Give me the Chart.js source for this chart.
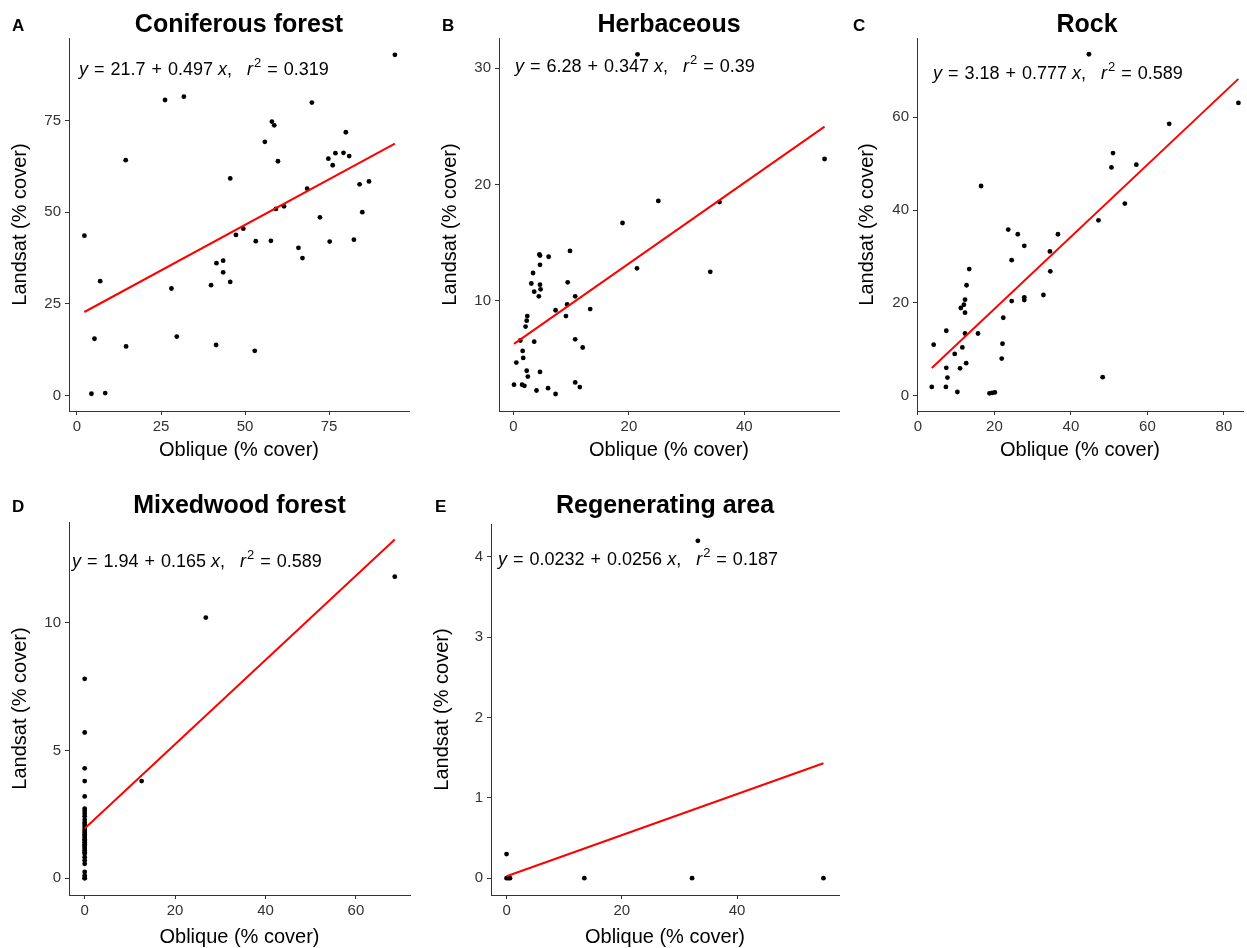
<!DOCTYPE html>
<html>
<head>
<meta charset="utf-8">
<script src="https://cdn.jsdelivr.net/npm/chart.js@4.4.0/dist/chart.umd.min.js"></script>
<style>
  html, body { margin: 0; padding: 0; background: #fff; overflow: hidden; }
  body { width: 1247px; height: 948px; position: relative; }
  canvas { position: absolute; }
</style>
</head>
<body>
<canvas id="chartA" width="420" height="470" style="left:0;top:0"></canvas>
<canvas id="chartB" width="420" height="470" style="left:430px;top:0"></canvas>
<canvas id="chartC" width="397" height="470" style="left:850px;top:0"></canvas>
<canvas id="chartD" width="420" height="468" style="left:0;top:480px"></canvas>
<canvas id="chartE" width="420" height="468" style="left:430px;top:480px"></canvas>
<script>
// A - Coniferous forest
const coniferX = [94.6, 26.2, 31.8, 69.9, 58.0, 58.7, 14.5, 55.9, 59.8, 80.0, 74.8, 76.9, 79.3, 81.0, 76.1, 45.6,
  68.5, 84.1, 86.9, 59.2, 61.6, 84.9, 72.3, 49.5, 2.2, 47.3, 53.2, 57.7, 65.9, 67.1, 75.2, 82.4, 41.5, 43.5, 43.5,
  39.9, 45.6, 6.9, 28.1, 5.2, 29.7, 14.6, 41.4, 52.9, 4.3, 8.4];
const coniferY = [92.9, 80.6, 81.5, 79.9, 74.7, 73.7, 64.2, 69.2, 63.9, 71.8, 64.6, 66.1, 66.2, 65.3, 62.8, 59.2,
  56.4, 57.6, 58.4, 50.9, 51.6, 50.0, 48.6, 45.5, 43.6, 43.8, 42.1, 42.2, 40.3, 37.5, 42.0, 42.5, 36.1, 36.8, 33.6,
  30.1, 31.0, 31.2, 29.2, 15.5, 16.1, 13.4, 13.8, 12.2, 0.5, 0.7];
const coniferFit = [21.7, 0.497, 0.319];
const coniferXTicks = [0, 25, 50, 75];
const coniferYTicks = [0, 25, 50, 75];

// B - Herbaceous
const herbX = [21.5, 53.9, 25.1, 35.7, 18.9, 34.1, 21.4, 9.8, 4.5, 4.6, 6.1, 4.6, 3.4, 3.1, 9.4, 4.6, 4.7, 3.6, 4.4,
  10.7, 9.3, 7.3, 13.3, 9.1, 2.4, 2.3, 2.1, 1.2, 3.6, 10.7, 12.0, 1.6, 1.7, 0.5, 2.3, 2.5, 4.6, 0.1, 1.5, 1.9, 10.7,
  11.5, 4.0, 6.0, 7.3];
const herbY = [31.2, 22.2, 18.6, 18.5, 16.7, 12.5, 12.8, 14.3, 14.0, 13.9, 13.8, 13.1, 12.4, 11.5, 11.6, 11.4, 11.0,
  10.8, 10.4, 10.4, 9.7, 9.2, 9.3, 8.7, 8.7, 8.3, 7.8, 6.6, 6.5, 6.7, 6.0, 5.7, 5.1, 4.7, 4.0, 3.5, 3.9, 2.8, 2.8,
  2.7, 3.0, 2.6, 2.3, 2.5, 2.0];
const herbFit = [6.28, 0.347, 0.39];
const herbXTicks = [0, 20, 40];
const herbYTicks = [10, 20, 30];

// C - Rock
const rockX = [44.7, 83.8, 65.7, 51.0, 50.6, 57.1, 16.5, 54.1, 47.2, 23.6, 26.1, 36.6, 27.8, 34.5, 24.5, 13.4, 34.6,
  12.7, 12.3, 24.5, 27.8, 27.8, 32.8, 12.0, 11.2, 12.3, 22.3, 7.4, 12.3, 15.7, 4.1, 22.1, 11.6, 9.6, 21.9, 12.6, 7.4,
  11.0, 7.7, 48.3, 3.6, 7.3, 10.3, 18.7, 19.4, 20.1];
const rockY = [73.6, 63.1, 58.6, 52.3, 49.2, 49.8, 45.2, 41.4, 37.8, 35.8, 34.8, 34.8, 32.3, 31.1, 29.2, 27.3, 26.8,
  23.8, 20.7, 20.4, 21.2, 20.6, 21.7, 19.6, 18.9, 17.9, 16.8, 14.0, 13.4, 13.4, 11.0, 11.2, 10.4, 9.0, 8.0, 7.0, 6.0,
  5.9, 3.9, 4.0, 1.9, 1.9, 0.8, 0.5, 0.6, 0.7];
const rockFit = [3.18, 0.777, 0.589];
const rockXTicks = [0, 20, 40, 60, 80];
const rockYTicks = [0, 20, 40, 60];

// D - Mixedwood forest
const mixedX = [0, 26.8, 68.6, 0, 0, 0, 12.6, 0, 0, 0, 0, 0, 0, 0, 0, 0, 0, 0, 0, 0, 0, 0, 0, 0, 0, 0, 0, 0, 0, 0,
  0, 0, 0, 0, 0, 0, 0, 0, 0];
const mixedY = [7.8, 10.2, 11.8, 5.7, 4.3, 3.8, 3.8, 3.2, 2.72, 2.63, 2.52, 2.42, 2.29, 2.18, 2.09, 2.0, 1.92, 1.85,
  1.79, 1.71, 1.66, 1.58, 1.52, 1.47, 1.40, 1.33, 1.27, 1.22, 1.15, 1.08, 1.01, 0.95, 0.82, 0.69, 0.56, 0.24, 0.1,
  0.0, 0.0];
const mixedFit = [1.94, 0.165, 0.589];
const mixedXTicks = [0, 20, 40, 60];
const mixedYTicks = [0, 5, 10];

// E - Regenerating area
const regenX = [33.2, 0, 0, 0.3, 0.6, 13.5, 32.2, 55.0];
const regenY = [4.2, 0.3, 0, 0, 0, 0, 0, 0];
const regenFit = [0.0232, 0.0256, 0.187];
const regenXTicks = [0, 20, 40];
const regenYTicks = [0, 1, 2, 3, 4];

const FONT = '"Liberation Sans", Arial, Helvetica, sans-serif';

function drawEquation(ctx, x, y, fit) {
  const [a, b, r2] = fit;
  const reg = '18px ' + FONT;
  const ita = 'italic 18px ' + FONT;
  const sup = '13px ' + FONT;
  const pieces = [
    ['y', ita], [6], ['=', reg], [6], [String(a), reg], [6], ['+', reg], [6], [String(b), reg], [5],
    ['x', ita], [',', reg], [15], ['r', ita], [1], ['2', sup, -8], [6], ['=', reg], [6], [String(r2), reg]
  ];
  ctx.textAlign = 'left';
  ctx.textBaseline = 'alphabetic';
  let cx = x;
  pieces.forEach(p => {
    if (p.length === 1) { cx += p[0]; return; }
    ctx.font = p[1];
    ctx.fillText(p[0], cx, y + (p[2] || 0));
    cx += ctx.measureText(p[0]).width;
  });
}

const panelText = {
  id: 'panelText',
  afterDraw(chart, args, o) {
    const ctx = chart.ctx, area = chart.chartArea;
    ctx.save();
    ctx.fillStyle = '#000';
    ctx.textBaseline = 'alphabetic';
    ctx.textAlign = 'left';
    ctx.font = 'bold 17px ' + FONT;
    ctx.fillText(o.letter, o.letterX, o.letterY);
    ctx.textAlign = 'center';
    ctx.font = 'bold 25px ' + FONT;
    ctx.fillText(o.title, o.titleX != null ? o.titleX : (area.left + area.right) / 2, o.titleY);
    drawEquation(ctx, o.eqX, o.eqY, o.fit);
    ctx.restore();
  }
};

function axis(range, ticks, title, fitSize, isX, titlePad) {
  return {
    type: 'linear',
    min: range[0],
    max: range[1],
    afterBuildTicks: s => { s.ticks = ticks.map(v => ({ value: v })); },
    afterFit: s => { if (isX) s.height = fitSize; else s.width = fitSize; },
    grid: { display: true, drawOnChartArea: false, drawTicks: true, tickLength: 4, color: '#333', lineWidth: 1 },
    border: { display: true, color: '#333', width: 1 },
    ticks: { color: '#333', font: { size: 15, family: FONT }, padding: isX ? 3 : 4, maxRotation: 0, autoSkip: false },
    title: {
      display: true, text: title, color: '#000',
      font: { size: 20, family: FONT, lineHeight: 1 },
      padding: isX ? { top: 0, bottom: titlePad } : { top: titlePad, bottom: 0 }
    }
  };
}

function makePanel(id, p) {
  const xs = p.x, ys = p.y;
  const lo = Math.min(...xs), hi = Math.max(...xs);
  const [a, b] = p.fit;
  const points = xs.map((v, i) => ({ x: v, y: ys[i] }));
  new Chart(document.getElementById(id), {
    type: 'scatter',
    data: {
      datasets: [
        { data: [{ x: lo, y: a + b * lo }, { x: hi, y: a + b * hi }], showLine: true, borderColor: '#ff0000',
          borderWidth: 2, pointRadius: 0, fill: false },
        { data: points, backgroundColor: '#000', borderWidth: 0, pointRadius: 2.4, clip: false }
      ]
    },
    options: {
      responsive: false,
      animation: false,
      layout: { padding: { left: 0, top: p.top, right: p.right, bottom: 0 } },
      plugins: {
        legend: { display: false },
        tooltip: { enabled: false },
        panelText: p.text
      },
      scales: {
        x: axis(p.xRange, p.xTicks, 'Oblique (% cover)', p.xH, true, p.xPad),
        y: axis(p.yRange, p.yTicks, 'Landsat (% cover)', p.yW, false, p.yPad)
      }
    },
    plugins: [panelText]
  });
}

makePanel('chartA', {
  x: coniferX, y: coniferY, fit: coniferFit, xTicks: coniferXTicks, yTicks: coniferYTicks,
  xRange: [-2.38, 98.8], yRange: [-4.2, 97.5],
  top: 38, right: 11, xH: 59, yW: 69, xPad: 10, yPad: 10,
  text: { letter: 'A', letterX: 12, letterY: 31, title: 'Coniferous forest', titleY: 32, eqX: 79, eqY: 75, fit: coniferFit }
});
makePanel('chartB', {
  x: herbX, y: herbY, fit: herbFit, xTicks: herbXTicks, yTicks: herbYTicks,
  xRange: [-2.5, 56.4], yRange: [0.54, 32.6],
  top: 38, right: 11, xH: 59, yW: 69, xPad: 10, yPad: 10,
  text: { letter: 'B', letterX: 12, letterY: 31, title: 'Herbaceous', titleY: 32, eqX: 85, eqY: 72, fit: herbFit }
});
makePanel('chartC', {
  x: rockX, y: rockY, fit: rockFit, xTicks: rockXTicks, yTicks: rockYTicks,
  xRange: [-0.26, 85.0], yRange: [-3.3, 77.1],
  top: 38, right: 0, xH: 59, yW: 67, xPad: 10, yPad: 7,
  text: { letter: 'C', letterX: 3, letterY: 31, title: 'Rock', titleX: 237, titleY: 32, eqX: 83, eqY: 79, fit: rockFit }
});
makePanel('chartD', {
  x: mixedX, y: mixedY, fit: mixedFit, xTicks: mixedXTicks, yTicks: mixedYTicks,
  xRange: [-3.47, 71.97], yRange: [-0.66, 13.94],
  top: 42, right: 10, xH: 53, yW: 69, xPad: 1, yPad: 10,
  text: { letter: 'D', letterX: 12, letterY: 32, title: 'Mixedwood forest', titleY: 33, eqX: 72, eqY: 87, fit: mixedFit }
});
makePanel('chartE', {
  x: regenX, y: regenY, fit: regenFit, xTicks: regenXTicks, yTicks: regenYTicks,
  xRange: [-2.7, 57.7], yRange: [-0.21, 4.41],
  top: 44, right: 11, xH: 53, yW: 61, xPad: 1, yPad: 2,
  text: { letter: 'E', letterX: 5, letterY: 32, title: 'Regenerating area', titleY: 33, eqX: 68, eqY: 85, fit: regenFit }
});
</script>
</body>
</html>
